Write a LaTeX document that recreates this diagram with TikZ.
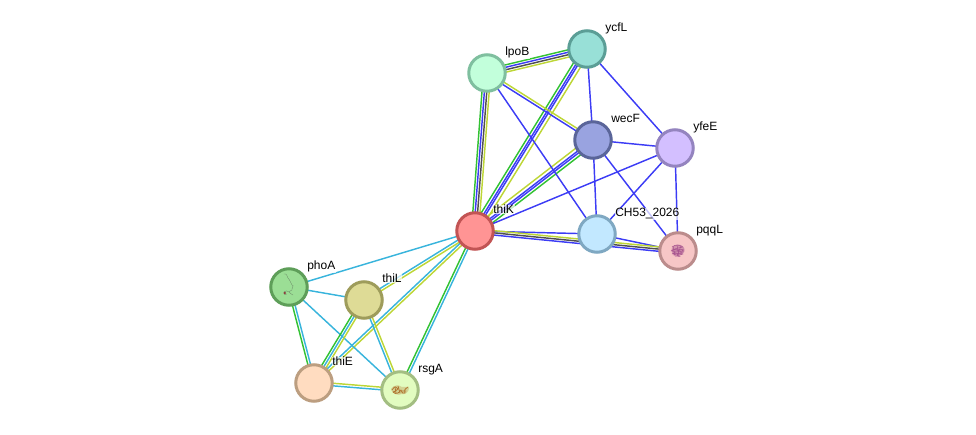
\documentclass[tikz,border=0pt]{standalone}
\usepackage{fontspec}
\setmainfont{Liberation Sans}
\usetikzlibrary{calc,backgrounds}

\definecolor{linkblue}{HTML}{3C3CF5}
\definecolor{linkgreen}{HTML}{33C233}
\definecolor{linkyellow}{HTML}{BDD636}
\definecolor{linkcyan}{HTML}{38B4DC}
\definecolor{linkdark}{HTML}{505050}

\definecolor{fillA}{HTML}{C2FFDB}\definecolor{edgeA}{HTML}{7FBF9F}
\definecolor{fillB}{HTML}{98E0D7}\definecolor{edgeB}{HTML}{5B9E96}
\definecolor{fillC}{HTML}{99A3E0}\definecolor{edgeC}{HTML}{5A6599}
\definecolor{fillD}{HTML}{D3BFFF}\definecolor{edgeD}{HTML}{9484BF}
\definecolor{fillE}{HTML}{FF9494}\definecolor{edgeE}{HTML}{C25454}
\definecolor{fillF}{HTML}{C2E8FF}\definecolor{edgeF}{HTML}{7FA8C2}
\definecolor{fillG}{HTML}{F7C6C6}\definecolor{edgeG}{HTML}{BB8C8C}
\definecolor{fillH}{HTML}{9BDE95}\definecolor{edgeH}{HTML}{5E9E59}
\definecolor{fillI}{HTML}{DEDB96}\definecolor{edgeI}{HTML}{9E9C5B}
\definecolor{fillJ}{HTML}{FFDCC0}\definecolor{edgeJ}{HTML}{BC9E80}
\definecolor{fillK}{HTML}{E2FCC0}\definecolor{edgeK}{HTML}{A3BE82}
\definecolor{foldpink}{HTML}{A8558F}
\definecolor{foldbrown}{HTML}{B0752F}
\definecolor{foldgrey}{HTML}{6E8F6A}

\tikzset{
  protein/.style={circle,inner sep=0pt,minimum size=36.5pt,line width=3pt,fill=fill#1,draw=edge#1},
  strand/.style={line width=1.45pt},
  tag/.style={anchor=base west,inner sep=0.6pt,font=\fontsize{12}{12}\selectfont,
    fill=white,fill opacity=0.7,text opacity=1,text=black},
  fold/.style={line width=0.5pt,line cap=round,line join=round},
}

% A link between two proteins: parallel strands, each given as offset/colour.
\newcommand{\proteinlink}[3]{%
  \foreach \off/\tone in {#3}{%
    \draw[strand,\tone] ($(#1)!\off pt!90:(#2)$) -- ($(#2)!\off pt!-90:(#1)$);
  }%
}
% A name set up and to the right of its protein.
\newcommand{\proteintag}[2]{\node[tag] (#1tag) at ($(#1)+(17.5,-17.2)$) {#2};}

\begin{document}
\begin{tikzpicture}[x=1pt,y=-1pt]
\useasboundingbox (0,0) rectangle (976,435);

% Proteins
\node[protein=A] (lpoB) at (487,73) {};
\node[protein=B] (ycfL) at (587,49) {};
\node[protein=C] (wecF) at (593,140) {};
\node[protein=D] (yfeE) at (675,148) {};
\node[protein=E] (thiK) at (475,231) {};
\node[protein=F] (chf)  at (597,234) {};
\node[protein=G] (pqqL) at (678,251) {};
\node[protein=H] (phoA) at (289,287) {};
\node[protein=I] (thiL) at (364,300) {};
\node[protein=J] (thiE) at (314,383) {};
\node[protein=K] (rsgA) at (400,390) {};

% Links run underneath the proteins
\begin{scope}[on background layer]
  \proteinlink{lpoB}{ycfL}{3.6/linkgreen,1.2/linkblue,-1.2/linkdark,-3.6/linkyellow}
  \proteinlink{thiK}{lpoB}{3.6/linkgreen,1.2/linkblue,-1.2/linkdark,-3.6/linkyellow}
  \proteinlink{thiK}{ycfL}{4.2/linkgreen,1.4/linkblue,-0.6/linkblue,-4/linkyellow}
  \proteinlink{thiK}{wecF}{4/linkyellow,0.6/linkblue,-1.4/linkblue,-4.2/linkgreen}
  \proteinlink{lpoB}{wecF}{1.3/linkyellow,-1.3/linkblue}
  \proteinlink{lpoB}{chf}{0/linkblue}
  \proteinlink{ycfL}{wecF}{0/linkblue}
  \proteinlink{ycfL}{yfeE}{0/linkblue}
  \proteinlink{wecF}{yfeE}{0/linkblue}
  \proteinlink{wecF}{chf}{0/linkblue}
  \proteinlink{wecF}{pqqL}{0/linkblue}
  \proteinlink{thiK}{yfeE}{0/linkblue}
  \proteinlink{yfeE}{chf}{0/linkblue}
  \proteinlink{yfeE}{pqqL}{0/linkblue}
  \proteinlink{thiK}{chf}{0/linkblue}
  \proteinlink{chf}{pqqL}{0/linkblue}
  \proteinlink{thiK}{pqqL}{2.2/linkyellow,0/linkdark,-2.2/linkblue}
  \proteinlink{thiK}{phoA}{0/linkcyan}
  \proteinlink{thiK}{thiL}{1.3/linkyellow,-1.3/linkcyan}
  \proteinlink{thiK}{thiE}{1.3/linkyellow,-1.3/linkcyan}
  \proteinlink{thiK}{rsgA}{1.3/linkcyan,-1.3/linkgreen}
  \proteinlink{phoA}{thiL}{0/linkcyan}
  \proteinlink{phoA}{thiE}{1.3/linkcyan,-1.3/linkgreen}
  \proteinlink{phoA}{rsgA}{0/linkcyan}
  \proteinlink{thiL}{thiE}{2.5/linkyellow,0/linkcyan,-2.5/linkgreen}
  \proteinlink{thiL}{rsgA}{1.3/linkyellow,-1.3/linkcyan}
  \proteinlink{thiE}{rsgA}{1.3/linkyellow,-1.3/linkcyan}
\end{scope}

% Folded structures shown inside three of the proteins
\begin{scope}[shift={(pqqL)},fold,draw=foldpink]
  \fill[foldpink,opacity=0.45] (0,-1) ellipse (6.5 and 5.5);
  \draw (-6,-4) .. controls (-2,-7) and (1,-6) .. (5,-4) .. controls (0,-3) and (-5,-2) .. (-7,0)
    .. controls (-3,-2) and (3,-2) .. (6,0) .. controls (2,1) and (-3,0) .. (-6,3)
    .. controls (-2,2) and (2,2) .. (5,3) .. controls (2,4) and (-2,5) .. (-3,5)
    .. controls (0,5) and (3,6) .. (2,5);
  \draw (-5,-5) -- (-3,5) (-1,-6) -- (1,5) (3,-5) -- (-1,5) (-6,1) -- (6,-2) (-5,4) -- (5,1);
\end{scope}
\begin{scope}[shift={(phoA)},fold,draw=foldgrey,line width=0.35pt]
  \draw (-5,-13) .. controls (-2,-14) and (-2,-10) .. (-1,-9) .. controls (1,-8) and (0,-6) .. (1,-6)
    .. controls (3,-5) and (1,-3) .. (3,-2) .. controls (6,-1) and (2,0) .. (3,2)
    .. controls (4,4) and (0,3) .. (0,5) .. controls (0,7) and (3,6) .. (4,8);
  \draw (0,5) .. controls (-2,3) and (-3,4) .. (-5,5) .. controls (-6,7) and (-3,9) .. (-2,7);
  \fill[red!40!black!75] (-4.3,6) circle (1.4);
\end{scope}
\begin{scope}[shift={(rsgA)},fold,draw=foldbrown,line width=0.8pt]
  \fill[foldbrown,opacity=0.3] (-9,-1) .. controls (-6,-6) and (-1,-5) .. (2,-3)
    .. controls (5,-3) and (8,-4) .. (9,-2) .. controls (9,2) and (5,5) .. (2,4)
    .. controls (-2,6) and (-8,4) .. (-9,-1) -- cycle;
  \draw (-8,0) .. controls (-5,-5) and (-3,-3) .. (-2,-1) .. controls (-4,1) and (-6,2) .. (-7,2)
    .. controls (-4,5) and (-1,3) .. (1,0) .. controls (2,3) and (3,4) .. (5,3)
    .. controls (3,1) and (5,-1) .. (8,-3);
  \draw (-5,-3) -- (-4,3) (-2,-4) -- (0,3) (2,1) -- (6,1);
\end{scope}

% Protein names
\proteintag{lpoB}{lpoB}
\proteintag{ycfL}{ycfL}
\proteintag{wecF}{wecF}
\proteintag{yfeE}{yfeE}
\proteintag{thiK}{thiK}
\proteintag{chf}{CH53\_2026}
\proteintag{pqqL}{pqqL}
\proteintag{phoA}{phoA}
\proteintag{thiL}{thiL}
\proteintag{thiE}{thiE}
\proteintag{rsgA}{rsgA}
\end{tikzpicture}
\end{document}
